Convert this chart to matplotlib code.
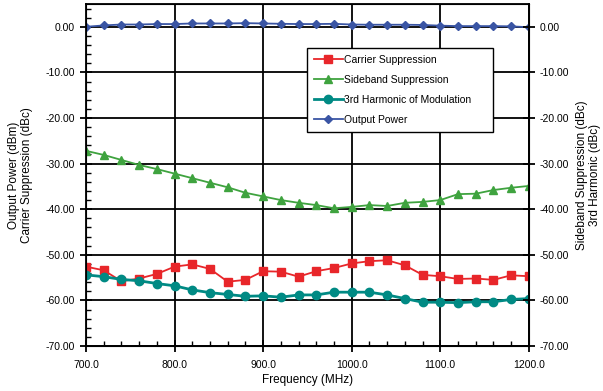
import numpy as np
import matplotlib
matplotlib.use('Agg')
import matplotlib.pyplot as plt
from matplotlib.ticker import MultipleLocator, FormatStrFormatter

freq = list(range(700, 1201, 20))

carrier = [-52.6, -53.4, -55.8, -55.2, -54.2, -52.6, -52.1, -53.1, -55.9, -55.5,
           -53.6, -53.7, -54.8, -53.6, -52.9, -51.9, -51.4, -51.2, -52.3, -54.4,
           -54.7, -55.3, -55.2, -55.5, -54.5, -54.7]
sideband = [-27.2, -28.1, -29.2, -30.3, -31.2, -32.2, -33.2, -34.2, -35.2, -36.4,
            -37.2, -38.0, -38.6, -39.1, -39.8, -39.5, -39.1, -39.3, -38.6, -38.4,
            -38.0, -36.7, -36.6, -35.8, -35.3, -34.9]
harmonic3 = [-54.4, -54.8, -55.4, -55.7, -56.3, -56.8, -57.7, -58.3, -58.7, -59.1,
             -59.0, -59.3, -58.8, -58.8, -58.2, -58.2, -58.2, -58.8, -59.6, -60.4,
             -60.4, -60.5, -60.3, -60.3, -59.8, -59.6]
out_power = [0.0, 0.3, 0.5, 0.5, 0.6, 0.6, 0.73, 0.73, 0.73, 0.8,
             0.73, 0.66, 0.6, 0.6, 0.65, 0.5, 0.45, 0.45, 0.45, 0.4,
             0.25, 0.15, 0.15, 0.15, 0.1, -0.1]

plt.rcParams['font.family'] = ['Liberation Sans', 'DejaVu Sans']

fig = plt.figure(figsize=(6.03, 3.91), dpi=100)
ax = fig.add_axes([0.1426, 0.1151, 0.877 - 0.1426, 0.9898 - 0.1151])

ax.plot(freq, carrier, color='#E8262A', marker='s', markersize=6, lw=1.3, label='Carrier Suppression')
ax.plot(freq, sideband, color='#3FA33F', marker='^', markersize=6, lw=1.3, label='Sideband Suppression')
ax.plot(freq, harmonic3, color='#008A84', marker='o', markersize=6, lw=2.0, label='3rd Harmonic of Modulation')
ax.plot(freq, out_power, color='#3A55A4', marker='D', markersize=4, lw=1.3, label='Output Power')

ax.set_xlim(700, 1200)
ax.set_ylim(-70, 5)
ax.xaxis.set_major_locator(MultipleLocator(100))
ax.xaxis.set_minor_locator(MultipleLocator(20))
ax.yaxis.set_major_locator(MultipleLocator(10))
ax.yaxis.set_minor_locator(MultipleLocator(2))
ax.xaxis.set_major_formatter(FormatStrFormatter('%.1f'))
ax.yaxis.set_major_formatter(FormatStrFormatter('%.2f'))
ax.grid(True, which='major', color='black', lw=1.3)
for s in ax.spines.values():
    s.set_linewidth(1.3)
ax.tick_params(which='major', direction='inout', length=8, width=1.3, labelsize=7.5)
ax.tick_params(axis='y', which='major', pad=4)
ax.tick_params(axis='x', which='major', pad=6)
ax.tick_params(which='minor', direction='in', length=3.5, width=1.0)
ax.set_xlabel('Frequency (MHz)', fontsize=8.5, labelpad=3)
ax.set_ylabel('Output Power (dBm)\nCarrier Suppression (dBc)', fontsize=8.5, labelpad=9,
              linespacing=1.05)

ax2 = ax.twinx()
ax2.set_ylim(-70, 5)
ax2.yaxis.set_major_locator(MultipleLocator(10))
ax2.yaxis.set_major_formatter(FormatStrFormatter('%.2f'))
ax2.tick_params(direction='inout', length=8, width=1.3, labelsize=7.5, pad=4)
ax2.set_ylabel('Sideband Suppression (dBc)\n3rd Harmonic (dBc)', fontsize=8.5, labelpad=5,
               linespacing=1.05)

leg = ax.legend(loc='upper left', bbox_to_anchor=(0.498, 0.872), fontsize=7.5,
                fancybox=False, framealpha=1, edgecolor='black', borderpad=0.7,
                borderaxespad=0, labelspacing=0.95, handlelength=2.8, handletextpad=0.1)
leg.get_frame().set_linewidth(1.0)
for t in leg.get_texts():
    t.set_text(t.get_text() + '     ')

fig.savefig('out.png', dpi=100)
